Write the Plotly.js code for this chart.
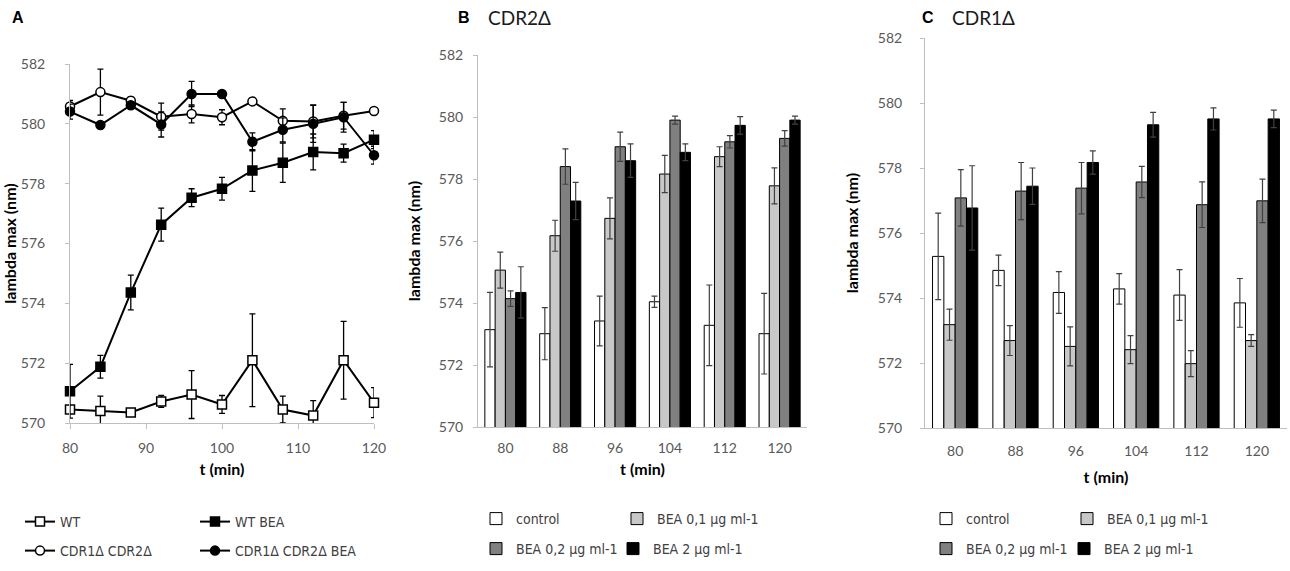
<!DOCTYPE html>
<html><head><meta charset="utf-8">
<script src="https://cdn.plot.ly/plotly-3.0.1.min.js"></script>
<style>body{margin:0;padding:0;background:#fff}#c{width:1290px;height:571px}</style>
</head><body><div id="c"></div>
<script>
// ---- Panel A data ----
const tA = [80, 84, 88, 92, 96, 100, 104, 108, 112, 116, 120];
const wt = [570.45, 570.4, 570.35, 570.72, 570.95, 570.62, 572.1, 570.45, 570.25, 572.1, 570.68];
const wtErr = [0.12, 0.5, 0.1, 0.2, 0.8, 0.3, 1.55, 0.45, 0.5, 1.3, 0.5];
const wtBea = [571.06, 571.88, 574.36, 576.63, 577.53, 577.83, 578.44, 578.7, 579.06, 579.02, 579.47];
const wtBeaErr = [0.9, 0.38, 0.58, 0.55, 0.3, 0.38, 0.7, 0.66, 0.6, 0.3, 0.3];
const dd = [580.58, 581.06, 580.77, 580.24, 580.33, 580.22, 580.75, 580.1, 580.08, 580.27, 580.43];
const ddErr = [0.2, 0.77, 0.12, 0.45, 0.3, 0.25, 0.1, 0.4, 0.55, 0.45, 0.1];
const ddBea = [580.41, 579.96, 580.62, 579.98, 581.0, 581.0, 579.4, 579.8, 580.0, 580.22, 578.95];
const ddBeaErr = [0.25, 0.1, 0.12, 0.42, 0.42, 0.1, 0.3, 0.4, 0.62, 0.5, 0.3];
const namesA = ['WT', 'WT BEA', 'CDR1\u0394 CDR2\u0394', 'CDR1\u0394 CDR2\u0394 BEA'];

// ---- Panels B / C data ----
const tBC = ['80', '88', '96', '104', '112', '120'];
const namesBC = ['control', 'BEA 0,1 \u00b5g ml-1', 'BEA 0,2 \u00b5g ml-1', 'BEA 2 \u00b5g ml-1'];
// B: CDR2Δ
const ctrlB = [573.14, 573.01, 573.42, 574.04, 573.28, 573.01];
const ctrlBErr = [1.2, 0.84, 0.8, 0.18, 1.3, 1.3];
const b01B = [575.06, 576.17, 576.73, 578.16, 578.72, 577.78];
const b01BErr = [0.58, 0.5, 0.66, 0.6, 0.32, 0.58];
const b02B = [574.14, 578.4, 579.04, 579.9, 579.2, 579.31];
const b02BErr = [0.25, 0.57, 0.47, 0.13, 0.2, 0.25];
const b2B = [574.34, 577.29, 578.59, 578.86, 579.73, 579.9];
const b2BErr = [0.83, 0.6, 0.54, 0.27, 0.28, 0.13];
// C: CDR1Δ
const ctrlC = [575.28, 574.85, 574.17, 574.28, 574.09, 573.85];
const ctrlCErr = [1.33, 0.47, 0.64, 0.47, 0.78, 0.75];
const b01C = [573.18, 572.69, 572.51, 572.41, 571.98, 572.69];
const b01CErr = [0.48, 0.46, 0.6, 0.43, 0.4, 0.18];
const b02C = [577.08, 577.29, 577.38, 577.57, 576.87, 576.99];
const b02CErr = [0.87, 0.88, 0.79, 0.48, 0.7, 0.67];
const b2C = [576.77, 577.44, 578.17, 579.33, 579.51, 579.51];
const b2CErr = [1.3, 0.56, 0.36, 0.38, 0.34, 0.27];

const yTicks = [570, 572, 574, 576, 578, 580, 582];

const tickFont = {family: 'Lato, "Open Sans", sans-serif', size: 14, color: '#595959'};
const titleFont = {family: 'Lato, "Open Sans", sans-serif', size: 16, color: '#000', weight: 'bold'};
const legFont = {family: '"Liberation Sans Narrow", "DejaVu Sans Condensed", Lato, sans-serif', size: 14, color: '#404040'};

function lineTrace(y, err, name, symbol, fill, leg) {
  return {
    type: 'scatter', mode: 'lines+markers', x: tA, y: y, name: name,
    xaxis: 'x', yaxis: 'y', legend: leg, cliponaxis: false,
    line: {color: '#000', width: 2},
    marker: {symbol: symbol, size: 9, color: fill, line: {color: '#000', width: 1.5}},
    error_y: {type: 'data', array: err, visible: true, color: '#000', thickness: 1.3, width: 3}
  };
}
const barColors = ['#ffffff', '#c8c8c8', '#808080', '#000000'];
function barTrace(y, err, i, xa, ya, leg) {
  return {
    type: 'bar', x: tBC, y: y, name: namesBC[i], xaxis: xa, yaxis: ya, legend: leg,
    marker: {color: barColors[i], line: {color: '#000', width: 1}},
    error_y: {type: 'data', array: err, visible: true, color: '#404040', thickness: 1.2, width: 3}
  };
}

const data = [
  lineTrace(wt, wtErr, namesA[0], 'square', '#fff', 'legend'),
  lineTrace(wtBea, wtBeaErr, namesA[1], 'square', '#000', 'legend'),
  lineTrace(dd, ddErr, namesA[2], 'circle', '#fff', 'legend2'),
  lineTrace(ddBea, ddBeaErr, namesA[3], 'circle', '#000', 'legend2'),
  barTrace(ctrlB, ctrlBErr, 0, 'x2', 'y2', 'legend3'),
  barTrace(b01B, b01BErr, 1, 'x2', 'y2', 'legend3'),
  barTrace(b02B, b02BErr, 2, 'x2', 'y2', 'legend4'),
  barTrace(b2B, b2BErr, 3, 'x2', 'y2', 'legend4'),
  barTrace(ctrlC, ctrlCErr, 0, 'x3', 'y3', 'legend5'),
  barTrace(b01C, b01CErr, 1, 'x3', 'y3', 'legend5'),
  barTrace(b02C, b02CErr, 2, 'x3', 'y3', 'legend6'),
  barTrace(b2C, b2CErr, 3, 'x3', 'y3', 'legend6')
];

const W = 1290, H = 571;
const px = v => v / W, py = v => 1 - v / H;

function yAxis(dom, anchor, standoff, lblStand) {
  return {
    domain: dom, anchor: anchor, range: [570, 582], tickvals: yTicks, autorange: false,
    showgrid: false, zeroline: false, showline: true, linecolor: '#bfbfbf', linewidth: 1,
    ticks: 'outside', ticklen: 4, tickcolor: '#bfbfbf', tickfont: tickFont, ticklabelstandoff: lblStand,
    title: {text: 'lambda max (nm)', font: titleFont, standoff: standoff}
  };
}
function legend(x, y, ew) {
  return {x: x, y: y, xanchor: 'left', yanchor: 'middle', orientation: 'h',
    font: legFont, bgcolor: 'rgba(0,0,0,0)', borderwidth: 0,
    entrywidth: ew, entrywidthmode: 'pixels', itemwidth: 30, itemclick: false, itemdoubleclick: false};
}

const layout = {
  width: W, height: H, margin: {l: 0, r: 0, t: 0, b: 0},
  paper_bgcolor: '#fff', plot_bgcolor: '#fff',
  barmode: 'group', bargap: 0.25, bargroupgap: 0,
  xaxis: {
    domain: [px(70), px(374)], anchor: 'y', range: [80, 120], tickvals: [80, 90, 100, 110, 120],
    showgrid: false, zeroline: false, showline: true, linecolor: '#bfbfbf',
    ticks: 'outside', ticklen: 5, tickcolor: '#bfbfbf', tickfont: tickFont, ticklabelstandoff: 7,
    title: {text: 't (min)', font: titleFont, standoff: 9}
  },
  yaxis: yAxis([py(423), py(64)], 'x', 6, 17),
  xaxis2: {
    domain: [px(478), px(807)], anchor: 'y2', type: 'category',
    showgrid: false, zeroline: false, showline: true, linecolor: '#bfbfbf',
    ticks: '', tickfont: tickFont, ticklabelstandoff: 8,
    title: {text: 't (min)', font: titleFont, standoff: 9}
  },
  yaxis2: yAxis([py(427), py(55)], 'x2', 14, 7),
  xaxis3: {
    domain: [px(925), px(1287)], anchor: 'y3', type: 'category',
    showgrid: false, zeroline: false, showline: true, linecolor: '#bfbfbf',
    ticks: '', tickfont: tickFont, ticklabelstandoff: 10,
    title: {text: 't (min)', font: titleFont, standoff: 14}
  },
  yaxis3: yAxis([py(428), py(38)], 'x3', 15, 15),
  legend: legend(px(20), py(522), 130),
  legend2: legend(px(20), py(551), 130),
  legend3: legend(px(476), py(519), 96),
  legend4: legend(px(476), py(549), 92),
  legend5: legend(px(926), py(519), 96),
  legend6: legend(px(926), py(549), 93),
  annotations: [
    {text: '<b>A</b>', x: px(10), y: py(18), xref: 'paper', yref: 'paper', xanchor: 'left', yanchor: 'middle', showarrow: false,
     font: {family: 'Liberation Sans, Arial, sans-serif', size: 16, color: '#000'}},
    {text: '<b>B</b>', x: px(456), y: py(18), xref: 'paper', yref: 'paper', xanchor: 'left', yanchor: 'middle', showarrow: false,
     font: {family: 'Liberation Sans, Arial, sans-serif', size: 16, color: '#000'}},
    {text: 'CDR2\u0394', x: px(486), y: py(18), xref: 'paper', yref: 'paper', xanchor: 'left', yanchor: 'middle', showarrow: false,
     font: {family: 'Lato, "Open Sans", sans-serif', size: 19, color: '#1a1a1a'}},
    {text: '<b>C</b>', x: px(920), y: py(18), xref: 'paper', yref: 'paper', xanchor: 'left', yanchor: 'middle', showarrow: false,
     font: {family: 'Liberation Sans, Arial, sans-serif', size: 16, color: '#000'}},
    {text: 'CDR1\u0394', x: px(950), y: py(18), xref: 'paper', yref: 'paper', xanchor: 'left', yanchor: 'middle', showarrow: false,
     font: {family: 'Lato, "Open Sans", sans-serif', size: 19, color: '#1a1a1a'}}
  ]
};

Plotly.newPlot('c', data, layout, {displayModeBar: false, staticPlot: true});
</script></body></html>
